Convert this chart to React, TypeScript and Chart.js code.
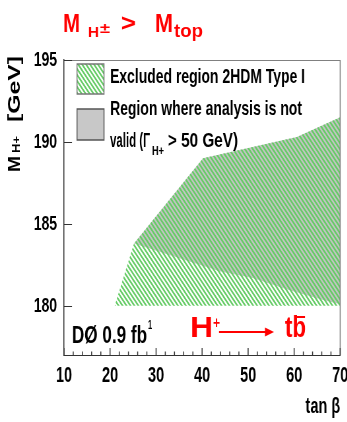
import { useEffect, useRef } from 'react';
import { Chart, registerables } from 'chart.js';

Chart.register(...registerables);

// Excluded region (2HDM Type I): upper edge in (tan β, M_H± [GeV]), filled down to the floor
const excludedTanBeta = [21, 25.2, 40.2, 60.6, 70];
const excludedMassUpper = [180, 183.8, 189.0, 190.3, 191.5];
const excludedFloor = 180;

// Region where the analysis is not valid (Γ_H+ > 50 GeV)
const invalidUpperTanBeta = [25.2, 40.2, 60.6, 70];
const invalidUpperMass = [183.8, 189.0, 190.3, 191.5];
const invalidLowerTanBeta = [25.2, 44, 51, 58.5, 65.7, 70];
const invalidLowerMass = [183.8, 182.1, 181.7, 181.0, 180.4, 180.1];

// Axis ranges and labelled ticks
const xRange = [10, 70];
const yRange = [177, 195];
const xTickLabels = [10, 20, 30, 40, 50, 60, 70];
const yTickLabels = [180, 185, 190, 195];

// The drawing is rendered wide and squeezed horizontally (tall, narrow lettering)
const S = 0.66;
const W = Math.round(347 / S);
const H = 422;
const ix = (d: number) => d / S;
const FONT = '"Liberation Sans", Arial, Helvetica, sans-serif';
const RED = '#ff0000';
const GREEN = '#66cc66';
const GRAY = '#c4c4c4';

const pts = (xs: number[], ys: number[]) => xs.map((x, i) => ({ x, y: ys[i] }));

function makeHatch(color: string): CanvasPattern | string {
  const c = document.createElement('canvas');
  const p = 6;
  c.width = p;
  c.height = p;
  const g = c.getContext('2d');
  if (!g) return color;
  g.strokeStyle = color;
  g.lineWidth = 2.2;
  g.beginPath();
  g.moveTo(-1, -1);
  g.lineTo(p + 1, p + 1);
  g.moveTo(-1, p - 1);
  g.lineTo(1, p + 1);
  g.moveTo(p - 1, -1);
  g.lineTo(p + 1, 1);
  g.stroke();
  return g.createPattern(c, 'repeat') || color;
}

// Text drawn to a given on-screen width, left edge and baseline in page pixels
function fitted(
  ctx: CanvasRenderingContext2D,
  text: string,
  left: number,
  baseline: number,
  size: number,
  width: number,
  color: string,
) {
  ctx.save();
  ctx.font = `bold ${size}px ${FONT}`;
  const w = ctx.measureText(text).width || 1;
  ctx.translate(ix(left), baseline);
  ctx.scale(ix(width) / w, 1);
  ctx.fillStyle = color;
  ctx.textAlign = 'left';
  ctx.textBaseline = 'alphabetic';
  ctx.fillText(text, 0, 0);
  ctx.restore();
}

// Vertical text reading bottom to top
function fittedUp(
  ctx: CanvasRenderingContext2D,
  text: string,
  baselineX: number,
  bottom: number,
  size: number,
  length: number,
  color: string,
) {
  ctx.save();
  ctx.font = `bold ${size}px ${FONT}`;
  const w = ctx.measureText(text).width || 1;
  ctx.translate(ix(baselineX), bottom);
  ctx.rotate(-Math.PI / 2);
  ctx.scale(length / w, 1);
  ctx.fillStyle = color;
  ctx.textAlign = 'left';
  ctx.textBaseline = 'alphabetic';
  ctx.fillText(text, 0, 0);
  ctx.restore();
}

export default function App() {
  const ref = useRef<HTMLCanvasElement | null>(null);

  useEffect(() => {
    const canvas = ref.current;
    if (!canvas) return;
    const hatch = makeHatch(GREEN);

    const decorations = {
      id: 'decorations',
      afterDraw(chart: any) {
        const { ctx, chartArea: a, scales } = chart;
        const xs = scales.x;
        const ys = scales.y;
        ctx.save();

        // frame: top and right edges
        ctx.strokeStyle = '#808080';
        ctx.lineWidth = 1;
        ctx.beginPath();
        ctx.moveTo(a.left, a.top + 0.5);
        ctx.lineTo(a.right, a.top + 0.5);
        ctx.stroke();
        ctx.lineWidth = 1.5;
        ctx.beginPath();
        ctx.moveTo(a.right, a.top);
        ctx.lineTo(a.right, a.bottom);
        ctx.stroke();

        // inward tick marks
        ctx.strokeStyle = '#333';
        ctx.lineWidth = 1.5;
        for (const t of xs.ticks) {
          const px = xs.getPixelForValue(t.value);
          const len = xTickLabels.includes(t.value) ? 7 : 3.5;
          ctx.beginPath();
          ctx.moveTo(px, a.bottom);
          ctx.lineTo(px, a.bottom - len);
          ctx.stroke();
        }
        ctx.lineWidth = 1;
        for (const v of yTickLabels) {
          const py = Math.round(ys.getPixelForValue(v)) + 0.5;
          ctx.beginPath();
          ctx.moveTo(a.left, py);
          ctx.lineTo(a.left + ix(8), py);
          ctx.stroke();
        }

        // legend
        ctx.fillStyle = '#fff';
        ctx.fillRect(ix(77), 64, ix(27), 30);
        ctx.fillStyle = hatch;
        ctx.fillRect(ix(77), 64, ix(27), 30);
        ctx.strokeStyle = '#777';
        ctx.lineWidth = 1.5;
        ctx.strokeRect(ix(77), 64, ix(27), 30);
        ctx.fillStyle = '#c8c8c8';
        ctx.fillRect(ix(77), 109, ix(27), 31);
        ctx.strokeStyle = '#555';
        ctx.strokeRect(ix(77), 109, ix(27), 31);

        fitted(ctx, 'Excluded region 2HDM Type I', 110, 83, 21, 195, '#000');
        fitted(ctx, 'Region where analysis is not', 110, 115, 21, 192, '#000');
        fitted(ctx, 'valid (Γ', 110, 147, 21, 40, '#000');
        fitted(ctx, 'H+', 152, 155, 12, 12, '#000');
        fitted(ctx, '> 50 GeV)', 168, 147, 21, 70, '#000');

        // luminosity label
        fitted(ctx, 'DØ 0.9 fb', 72, 343, 24, 75, '#000');
        fitted(ctx, '1', 148, 329, 12, 4, '#000');

        // decay channel H+ → t b̄
        fitted(ctx, 'H', 190, 337, 30, 23, RED);
        fitted(ctx, '+', 213, 328, 16, 7, RED);
        ctx.strokeStyle = RED;
        ctx.fillStyle = RED;
        ctx.lineWidth = 2;
        ctx.beginPath();
        ctx.moveTo(ix(219), 332);
        ctx.lineTo(ix(266), 332);
        ctx.stroke();
        ctx.beginPath();
        ctx.moveTo(ix(274), 332);
        ctx.lineTo(ix(265), 327.5);
        ctx.lineTo(ix(265), 336.5);
        ctx.closePath();
        ctx.fill();
        fitted(ctx, 'tb', 285, 337, 30, 21, RED);
        ctx.beginPath();
        ctx.moveTo(ix(296), 317);
        ctx.lineTo(ix(305), 317);
        ctx.stroke();

        // title
        fitted(ctx, 'M', 63, 32, 26, 17, RED);
        fitted(ctx, 'H', 88, 37, 15, 11, RED);
        fitted(ctx, '±', 100, 33, 15, 10, RED);
        fitted(ctx, '>', 121, 31, 24, 15, RED);
        fitted(ctx, 'M', 155, 32, 26, 18, RED);
        fitted(ctx, 'top', 174, 37, 19, 29, RED);

        // y-axis title
        fittedUp(ctx, 'M', 20, 172, 25, 16, '#000');
        fittedUp(ctx, 'H+', 20, 153, 16, 17, '#000');
        fittedUp(ctx, '[GeV]', 20, 122, 25, 66, '#000');

        ctx.restore();
      },
    };

    const tickFont = { family: FONT, weight: 'bold' as const };

    const chart = new Chart(canvas, {
      type: 'line',
      data: {
        datasets: [
          {
            data: pts(excludedTanBeta, excludedMassUpper),
            fill: { value: excludedFloor },
            backgroundColor: hatch as any,
            borderColor: 'rgba(0,0,0,0)',
            borderWidth: 0,
            pointRadius: 0,
            tension: 0,
          },
          {
            data: pts(invalidUpperTanBeta, invalidUpperMass),
            fill: '+1',
            backgroundColor: GRAY,
            borderColor: 'rgba(0,0,0,0)',
            borderWidth: 0,
            pointRadius: 0,
            tension: 0,
          },
          {
            data: pts(invalidLowerTanBeta, invalidLowerMass),
            fill: false,
            borderColor: 'rgba(0,0,0,0)',
            borderWidth: 0,
            pointRadius: 0,
            tension: 0,
          },
        ],
      },
      options: {
        responsive: false,
        animation: false,
        devicePixelRatio: 1,
        events: [],
        layout: { padding: { top: 60, right: ix(7), bottom: 0, left: 0 } },
        plugins: {
          legend: { display: false },
          tooltip: { enabled: false },
          title: { display: false },
        },
        scales: {
          x: {
            type: 'linear',
            min: xRange[0],
            max: xRange[1],
            ticks: {
              stepSize: 2,
              autoSkip: false,
              maxRotation: 0,
              padding: 8,
              color: '#000',
              font: { ...tickFont, size: 22 },
              callback: (v: any) => (xTickLabels.includes(Number(v)) ? String(v) : ''),
            },
            grid: { display: true, drawOnChartArea: false, drawTicks: false },
            border: { display: true, color: '#333', width: 1 },
            title: {
              display: true,
              text: 'tan β',
              align: 'end',
              color: '#000',
              font: { ...tickFont, size: 22 },
              padding: { top: 0, bottom: 2 },
            },
            afterFit: (s: any) => {
              s.height = H - 355;
              s.paddingLeft = 0;
              s.paddingRight = 0;
            },
          },
          y: {
            type: 'linear',
            min: yRange[0],
            max: yRange[1],
            afterBuildTicks: (s: any) => {
              s.ticks = yTickLabels.map((value) => ({ value }));
            },
            ticks: {
              padding: ix(7),
              color: '#000',
              font: { ...tickFont, size: 21 },
            },
            grid: { display: true, drawOnChartArea: false, drawTicks: false },
            border: { display: true, color: '#333', width: 1.5 },
            afterFit: (s: any) => {
              s.width = ix(64);
              s.paddingTop = 0;
              s.paddingBottom = 0;
            },
          },
        },
      },
      plugins: [decorations],
    });

    return () => chart.destroy();
  }, []);

  return (
    <div
      style={{
        position: 'fixed',
        left: 0,
        top: 0,
        width: 347,
        height: H,
        overflow: 'hidden',
        background: '#fff',
      }}
    >
      <div style={{ width: W, height: H, transform: `scaleX(${S})`, transformOrigin: '0 0' }}>
        <canvas ref={ref} width={W} height={H} style={{ display: 'block' }} />
      </div>
    </div>
  );
}
